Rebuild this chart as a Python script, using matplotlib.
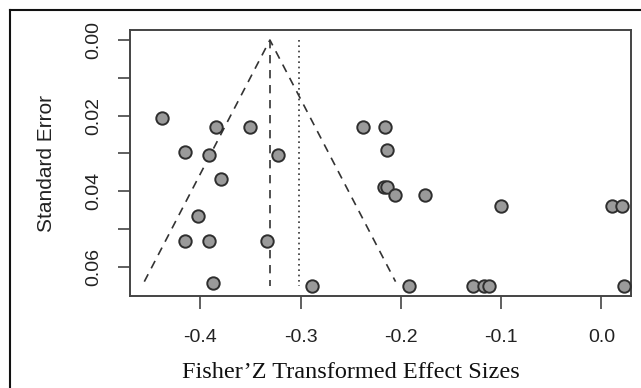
import matplotlib
matplotlib.use("Agg")
import matplotlib.pyplot as plt
from matplotlib.lines import Line2D

# effect sizes (Fisher's Z) and standard errors
effect = [-0.4385, -0.384, -0.350, -0.415, -0.391, -0.322, -0.379, -0.402,
          -0.415, -0.391, -0.333, -0.387, -0.289,
          -0.238, -0.216, -0.214, -0.217, -0.214, -0.206, -0.176, -0.1005,
          0.0105, 0.0207, -0.1915, -0.128, -0.1175, -0.112, 0.0225]
se = [0.0206, 0.0230, 0.0230, 0.0296, 0.0304, 0.0304, 0.0368, 0.0466,
      0.0532, 0.0532, 0.0532, 0.0643, 0.0651,
      0.0229, 0.0229, 0.0291, 0.0388, 0.0388, 0.0410, 0.0410, 0.0440,
      0.0440, 0.0440, 0.0651, 0.0651, 0.0651, 0.0651, 0.0651]

fixed_est = -0.3305   # summary estimate (funnel apex)
random_est = -0.3015  # dotted reference line
se_max = 0.0639
se_line_end = 0.0650

xticks = [-0.4, -0.3, -0.2, -0.1, 0.0]
xtick_labels = ['-0.4', '-0.3', '-0.2', '-0.1', '0.0']
yticks = [0.00, 0.01, 0.02, 0.03, 0.04, 0.05, 0.06]
ytick_labels = ['0.00', '', '0.02', '', '0.04', '', '0.06']

fig = plt.figure(figsize=(6.41, 3.88), dpi=100)
ax = fig.add_axes([130 / 641, 1 - 296 / 388, 501 / 641, 266 / 388])

dash = (0, (5, 4))
ax.plot([fixed_est - 1.96 * se_max, fixed_est, fixed_est + 1.96 * se_max],
        [se_max, 0, se_max], color='#333333', lw=1.2, linestyle=dash)
ax.plot([fixed_est, fixed_est], [0, se_line_end], color='#333333', lw=1.2, linestyle=dash)
ax.plot([random_est, random_est], [0, se_line_end], color='#333333', lw=1.2,
        linestyle=(0, (1, 2.2)))

ax.scatter(effect, se, s=80, c='#9a9a9a', edgecolors='#2e2e2e', linewidths=1.4, zorder=3)

ax.set_xlim(-0.47, 0.0295)
ax.set_ylim(0.0677, -0.00265)
ax.set_xticks(xticks)
ax.set_xticklabels(xtick_labels, fontsize=14, family='Liberation Sans', color='#222222')
ax.set_yticks(yticks)
ax.set_yticklabels(ytick_labels, fontsize=14, family='Liberation Sans', color='#222222',
                   rotation=90, va='center')
ax.tick_params(direction='out', length=9, width=1.2, color='#444444')
ax.tick_params(axis='x', pad=14.5)
ax.tick_params(axis='y', pad=11)

for s in ax.spines.values():
    s.set_color('#444444')
    s.set_linewidth(1.4)

ax.set_xlabel('Fisher\u2019Z Transformed Effect Sizes', family='Liberation Serif',
              fontsize=17.5, color='#111111')
ax.xaxis.set_label_coords(0.441, -0.25)
ax.set_ylabel('Standard Error', family='Liberation Sans', fontsize=15,
              color='#222222', labelpad=21)

# outer frame (top and left edges of the figure box)
fig.add_artist(Line2D([10 / 641, 1], [1 - 10 / 388, 1 - 10 / 388],
                      transform=fig.transFigure, color='#111111', lw=1.5))
fig.add_artist(Line2D([10 / 641, 10 / 641], [0, 1 - 10 / 388],
                      transform=fig.transFigure, color='#111111', lw=1.5))

fig.savefig('out.png', dpi=100)
